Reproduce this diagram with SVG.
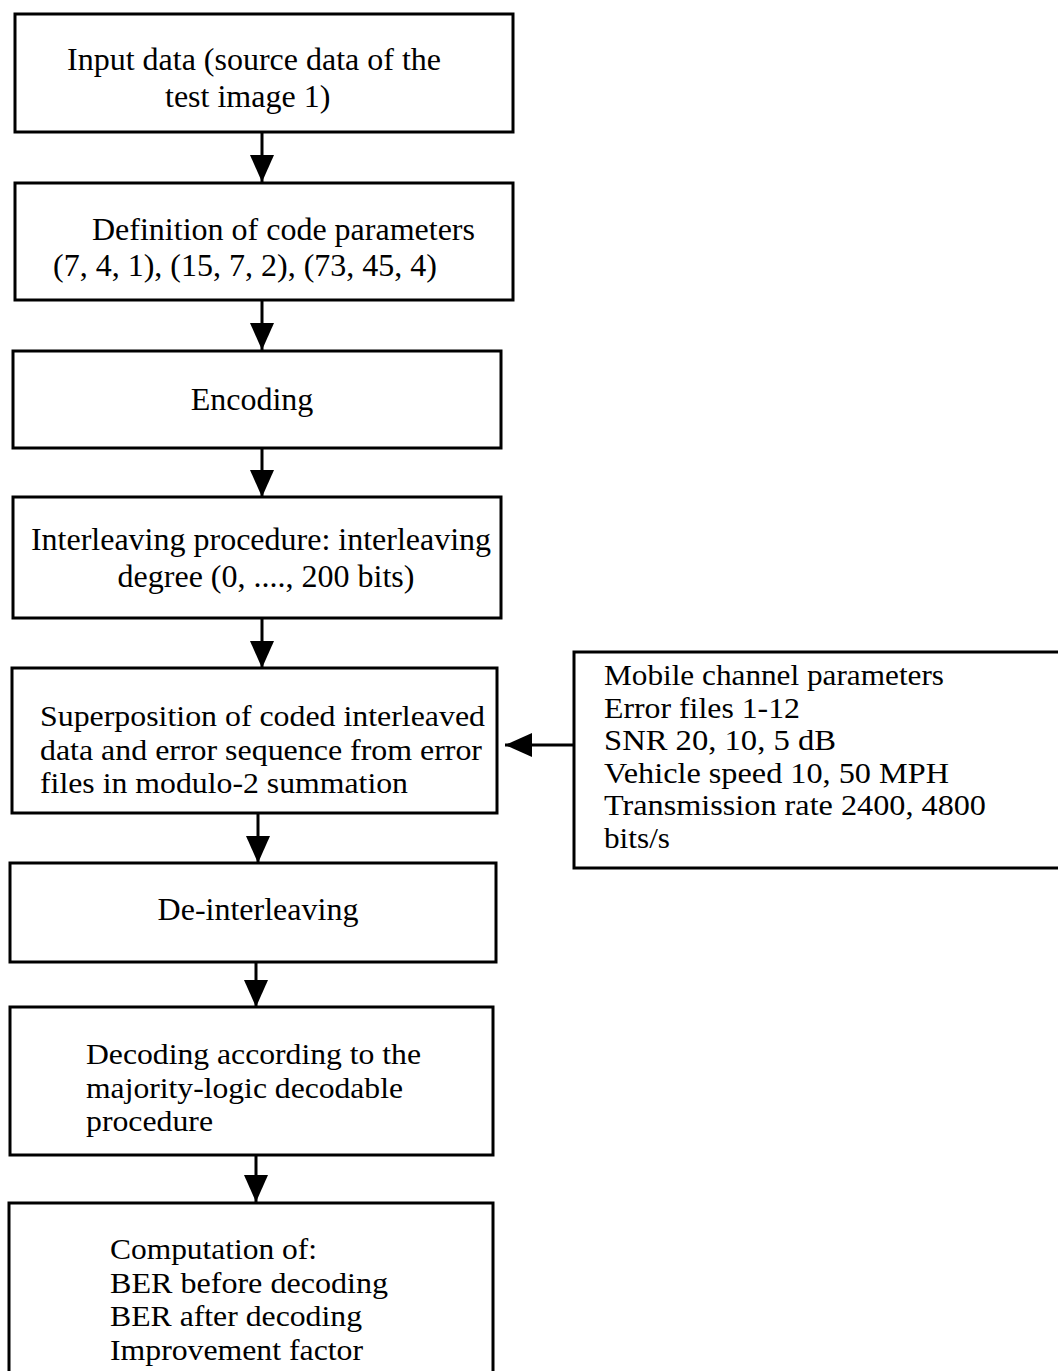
<svg xmlns="http://www.w3.org/2000/svg" width="1058" height="1371" viewBox="0 0 1058 1371">
  <style>
    .box { fill: #ffffff; stroke: #000000; stroke-width: 3; }
    .lbl { font-family: "Liberation Serif", "Times New Roman", serif; font-size: 32px; fill: #000000; }
    .tight { font-size: 30px; }
    .side { font-size: 29px; }
    .c { text-anchor: middle; }
    .edge { fill: none; stroke: #000000; stroke-width: 3; }
  </style>
  <defs>
    <marker id="head" markerUnits="userSpaceOnUse" markerWidth="28" markerHeight="24" refX="27" refY="12" orient="auto">
      <path d="M0,0 L27,12 L0,24 z" fill="#000000"/>
    </marker>
  </defs>
  <rect width="1058" height="1371" fill="#ffffff"/>

  <!-- flow connectors -->
  <g id="connectors">
    <line class="edge" x1="262" y1="132" x2="262" y2="182" marker-end="url(#head)"/>
    <line class="edge" x1="262" y1="300" x2="262" y2="350" marker-end="url(#head)"/>
    <line class="edge" x1="262" y1="448" x2="262" y2="497" marker-end="url(#head)"/>
    <line class="edge" x1="262" y1="618" x2="262" y2="668" marker-end="url(#head)"/>
    <line class="edge" x1="258" y1="813" x2="258" y2="863" marker-end="url(#head)"/>
    <line class="edge" x1="256" y1="962" x2="256" y2="1007" marker-end="url(#head)"/>
    <line class="edge" x1="256" y1="1155" x2="256" y2="1202" marker-end="url(#head)"/>
    <line class="edge" x1="574" y1="745" x2="505" y2="745" marker-end="url(#head)"/>
  </g>

  <g id="input">
    <rect class="box" x="15" y="14" width="498" height="118"/>
    <text class="lbl"><tspan x="67" y="70">Input data (source data of the</tspan><tspan x="165" y="107">test image 1)</tspan></text>
  </g>

  <g id="code-params">
    <rect class="box" x="15" y="183" width="498" height="117"/>
    <text class="lbl"><tspan x="92" y="240">Definition of code parameters</tspan><tspan x="53" y="276">(7, 4, 1), (15, 7, 2), (73, 45, 4)</tspan></text>
  </g>

  <g id="encoding">
    <rect class="box" x="13" y="351" width="488" height="97"/>
    <text class="lbl c" x="252" y="410">Encoding</text>
  </g>

  <g id="interleaving">
    <rect class="box" x="13" y="497" width="488" height="121"/>
    <text class="lbl c"><tspan x="261" y="550">Interleaving procedure: interleaving</tspan><tspan x="266" y="587">degree (0, ...., 200 bits)</tspan></text>
  </g>

  <g id="superposition">
    <rect class="box" x="12" y="668" width="485" height="145"/>
    <text class="lbl tight" x="40" y="726" textLength="445" lengthAdjust="spacingAndGlyphs">Superposition of coded interleaved</text>
    <text class="lbl tight" x="40" y="759.6" textLength="442" lengthAdjust="spacingAndGlyphs">data and error sequence from error</text>
    <text class="lbl tight" x="40" y="793.2" textLength="368" lengthAdjust="spacingAndGlyphs">files in modulo-2 summation</text>
  </g>

  <g id="channel-params">
    <rect class="box" x="574" y="652" width="500" height="216"/>
    <text class="lbl side" x="604" y="685" textLength="340" lengthAdjust="spacingAndGlyphs">Mobile channel parameters</text>
    <text class="lbl side" x="604" y="717.5" textLength="196" lengthAdjust="spacingAndGlyphs">Error files 1-12</text>
    <text class="lbl side" x="604" y="750" textLength="232" lengthAdjust="spacingAndGlyphs">SNR 20, 10, 5 dB</text>
    <text class="lbl side" x="604" y="782.5" textLength="345" lengthAdjust="spacingAndGlyphs">Vehicle speed 10, 50 MPH</text>
    <text class="lbl side" x="604" y="815" textLength="382" lengthAdjust="spacingAndGlyphs">Transmission rate 2400, 4800</text>
    <text class="lbl side" x="604" y="847.5" textLength="66" lengthAdjust="spacingAndGlyphs">bits/s</text>
  </g>

  <g id="deinterleaving">
    <rect class="box" x="10" y="863" width="486" height="99"/>
    <text class="lbl c" x="258" y="920">De-interleaving</text>
  </g>

  <g id="decoding">
    <rect class="box" x="10" y="1007" width="483" height="148"/>
    <text class="lbl tight" x="86" y="1064" textLength="335" lengthAdjust="spacingAndGlyphs">Decoding according to the</text>
    <text class="lbl tight" x="86" y="1097.6" textLength="317" lengthAdjust="spacingAndGlyphs">majority-logic decodable</text>
    <text class="lbl tight" x="86" y="1131.2" textLength="127" lengthAdjust="spacingAndGlyphs">procedure</text>
  </g>

  <g id="computation">
    <rect class="box" x="9" y="1203" width="484" height="190"/>
    <text class="lbl tight" x="110" y="1259" textLength="207" lengthAdjust="spacingAndGlyphs">Computation of:</text>
    <text class="lbl tight" x="110" y="1292.6" textLength="278" lengthAdjust="spacingAndGlyphs">BER before decoding</text>
    <text class="lbl tight" x="110" y="1326.2" textLength="252" lengthAdjust="spacingAndGlyphs">BER after decoding</text>
    <text class="lbl tight" x="110" y="1359.8" textLength="253" lengthAdjust="spacingAndGlyphs">Improvement factor</text>
  </g>
</svg>
